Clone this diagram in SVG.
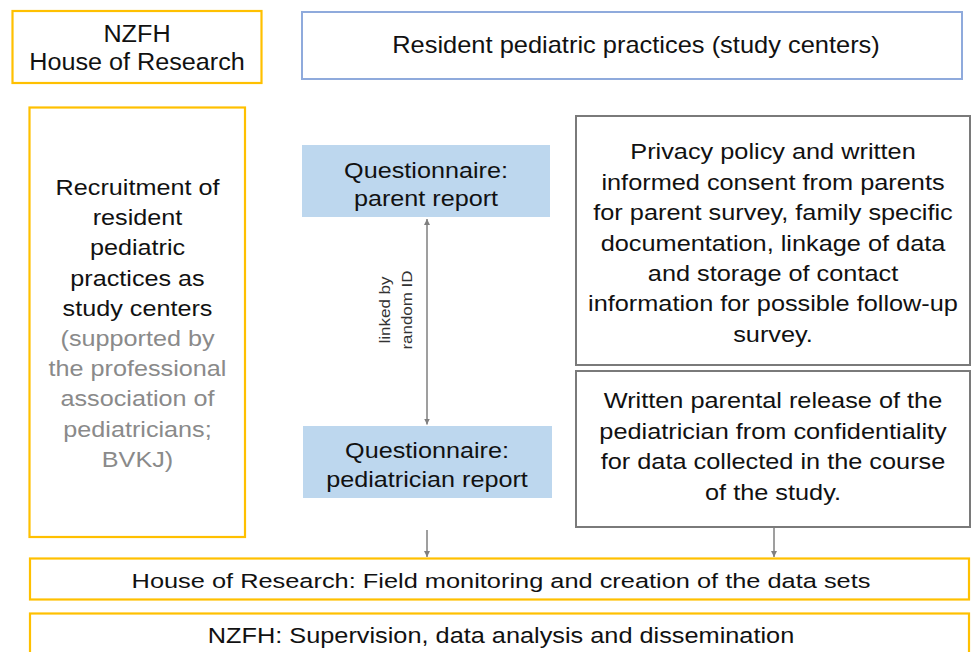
<svg xmlns="http://www.w3.org/2000/svg" width="972" height="652" viewBox="0 0 972 652">
  <style>
    text { font-family: "Liberation Sans", Arial, sans-serif; fill: #111; text-anchor: middle; }
    .gold { fill: #ffffff; stroke: #ffc000; stroke-width: 2.2; }
    .blue { fill: #ffffff; stroke: #8faadc; stroke-width: 2; }
    .grey { fill: #ffffff; stroke: #7a7a7a; stroke-width: 2; }
    .q { fill: #bdd7ee; stroke: none; }
    .note { fill: #8a8a8a; }
    .link { stroke: #7f7f7f; stroke-width: 1.5; fill: none; }
  </style>
  <defs>
    <marker id="tip" viewBox="0 0 8 8" refX="8" refY="4" markerWidth="6" markerHeight="7" markerUnits="userSpaceOnUse" orient="auto-start-reverse">
      <path d="M0,0 L8,4 L0,8 z" fill="#7f7f7f"/>
    </marker>
  </defs>
  <rect width="972" height="652" fill="#ffffff"/>

  <!-- NZFH / House of Research header -->
  <g id="nzfh-hor">
    <rect class="gold" x="12.5" y="11" width="249" height="72"/>
    <g transform="translate(137 0) scale(1.05 1)" font-size="24">
      <text x="0" y="42">NZFH</text>
      <text x="0" y="70">House of Research</text>
    </g>
  </g>

  <!-- study centers header -->
  <g id="practices">
    <rect class="blue" x="302" y="12" width="660" height="67"/>
    <g transform="translate(636 0) scale(1.06 1)" font-size="24">
      <text x="0" y="53">Resident pediatric practices (study centers)</text>
    </g>
  </g>

  <!-- recruitment column -->
  <g id="recruitment">
    <rect class="gold" x="29.5" y="107.5" width="215.5" height="429.5"/>
    <g transform="translate(137.5 0) scale(1.13 1)" font-size="22.3">
      <text x="0" y="195">Recruitment of</text>
      <text x="0" y="225.2">resident</text>
      <text x="0" y="255.4">pediatric</text>
      <text x="0" y="285.6">practices as</text>
      <text x="0" y="315.8">study centers</text>
      <text class="note" x="0" y="346">(supported by</text>
      <text class="note" x="0" y="376.2">the professional</text>
      <text class="note" x="0" y="406.4">association of</text>
      <text class="note" x="0" y="436.6">pediatricians;</text>
      <text class="note" x="0" y="466.8">BVKJ)</text>
    </g>
  </g>

  <!-- questionnaires -->
  <g id="parent-report">
    <rect class="q" x="302" y="145" width="248" height="72"/>
    <g transform="translate(426 0) scale(1.13 1)" font-size="22.3">
      <text x="0" y="177.7">Questionnaire:</text>
      <text x="0" y="206">parent report</text>
    </g>
  </g>
  <g id="pediatrician-report">
    <rect class="q" x="303" y="426" width="249" height="72"/>
    <g transform="translate(427 0) scale(1.13 1)" font-size="22.3">
      <text x="0" y="458.3">Questionnaire:</text>
      <text x="0" y="486.7">pediatrician report</text>
    </g>
  </g>

  <!-- consent and release -->
  <g id="consent">
    <rect class="grey" x="576" y="116" width="394" height="249"/>
    <g transform="translate(773 0) scale(1.135 1)" font-size="22.3">
      <text x="0" y="159.5">Privacy policy and written</text>
      <text x="0" y="189.9">informed consent from parents</text>
      <text x="0" y="220.3">for parent survey, family specific</text>
      <text x="0" y="250.7">documentation, linkage of data</text>
      <text x="0" y="281.1">and storage of contact</text>
      <text x="0" y="311.5">information for possible follow-up</text>
      <text x="0" y="341.9">survey.</text>
    </g>
  </g>
  <g id="release">
    <rect class="grey" x="576" y="371" width="394" height="156"/>
    <g transform="translate(773 0) scale(1.135 1)" font-size="22.3">
      <text x="0" y="408.3">Written parental release of the</text>
      <text x="0" y="438.8">pediatrician from confidentiality</text>
      <text x="0" y="469.3">for data collected in the course</text>
      <text x="0" y="499.8">of the study.</text>
    </g>
  </g>

  <!-- bottom bands -->
  <g id="field-monitoring">
    <rect class="gold" x="30" y="558.5" width="939" height="41"/>
    <g transform="translate(501 0) scale(1.25 1)" font-size="20.3">
      <text x="0" y="587.7">House of Research: Field monitoring and creation of the data sets</text>
    </g>
  </g>
  <g id="dissemination">
    <rect class="gold" x="30" y="613.5" width="939" height="50"/>
    <g transform="translate(501 0) scale(1.135 1)" font-size="22.3">
      <text x="0" y="643">NZFH: Supervision, data analysis and dissemination</text>
    </g>
  </g>

  <!-- connectors -->
  <g id="connectors">
    <line class="link" x1="427" y1="219" x2="427" y2="424.5" marker-start="url(#tip)" marker-end="url(#tip)"/>
    <g transform="translate(0 310) rotate(-90)" font-size="15" fill="#333">
      <text transform="scale(1.13 1)" x="0" y="390" style="fill:#333">linked by</text>
      <text transform="scale(1.13 1)" x="0" y="412" style="fill:#333">random ID</text>
    </g>
    <line class="link" x1="427" y1="530" x2="427" y2="557" marker-end="url(#tip)"/>
    <line class="link" x1="774" y1="528" x2="774" y2="557" marker-end="url(#tip)"/>
  </g>
</svg>
